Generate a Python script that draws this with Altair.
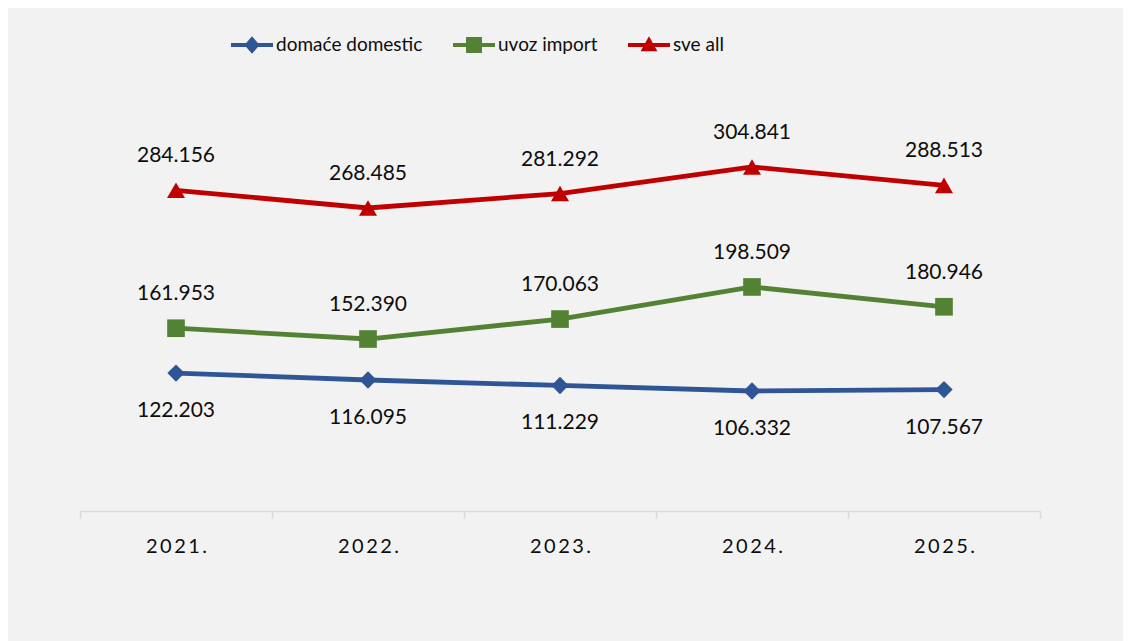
import altair as alt
import pandas as pd

years = ["2021.", "2022.", "2023.", "2024.", "2025."]
domestic = [122.203, 116.095, 111.229, 106.332, 107.567]
imports = [161.953, 152.390, 170.063, 198.509, 180.946]
total = [284.156, 268.485, 281.292, 304.841, 288.513]
series_names = ["domaće domestic", "uvoz import", "sve all"]
colors = ["#2f5597", "#548235", "#c00000"]
marker_shapes = ["diamond", "square", "triangle-up"]
marker_sizes = [300, 324, 360]

# legend symbols: line segment with the marker on it (custom SVG paths)
bar = "M-1,-0.1H1V0.1H-1Z"
legend_shapes = [
    bar + "M0,-0.42L0.36,0L0,0.42L-0.36,0Z",
    bar + "M-0.38,-0.38H0.38V0.38H-0.38Z",
    bar + "M0,-0.42L0.4,0.3L-0.4,0.3Z",
]

rows = []
for name, vals in zip(series_names, [domestic, imports, total]):
    for yr, v in zip(years, vals):
        rows.append({"year": yr, "series": name, "value": v})
df = pd.DataFrame(rows)

FONT = "Lato"
TXT = "#0d0d0d"

x_enc = alt.X(
    "year:N",
    sort=years,
    bandPosition=0.5,
    scale=alt.Scale(type="band", domain=years, paddingInner=0, paddingOuter=0),
    axis=alt.Axis(
        title=None,
        labelAngle=0,
        tickBand="extent",
        domainColor="#d9d9d9",
        domainWidth=1.5,
        tickColor="#d9d9d9",
        tickWidth=1.5,
        tickSize=7,
        labelPadding=18,
        labelFont=FONT,
        labelFontSize=20,
        labelColor=TXT,
        labelExpr="join(split(datum.label, ''), '\u2009')",
        grid=False,
    ),
)
y_enc = alt.Y("value:Q", scale=alt.Scale(domain=[0, 350], nice=False, zero=True), axis=None)
color_enc = alt.Color("series:N", scale=alt.Scale(domain=series_names, range=colors), legend=None)

base = alt.Chart(df)

lines = base.mark_line(strokeWidth=4.8).encode(x=x_enc, y=y_enc, color=color_enc, detail="series:N")

points = base.mark_point(filled=True, opacity=1).encode(
    x=x_enc,
    y=y_enc,
    color=color_enc,
    shape=alt.Shape("series:N", scale=alt.Scale(domain=series_names, range=marker_shapes), legend=None),
    size=alt.Size("series:N", scale=alt.Scale(domain=series_names, range=marker_sizes), legend=None),
)

labels_above = base.transform_filter(
    alt.datum.series != series_names[0]
).mark_text(font=FONT, fontSize=21, color=TXT, dy=-34, baseline="middle").encode(
    x=x_enc, y=y_enc, text=alt.Text("value:Q", format=".3f")
)
labels_below = base.transform_filter(
    alt.datum.series == series_names[0]
).mark_text(font=FONT, fontSize=21, color=TXT, dy=38, baseline="middle").encode(
    x=x_enc, y=y_enc, text=alt.Text("value:Q", format=".3f")
)

legend_layer = base.transform_filter("false").mark_point(filled=True, opacity=1).encode(
    color=color_enc,
    shape=alt.Shape(
        "series:N",
        scale=alt.Scale(domain=series_names, range=legend_shapes),
        legend=alt.Legend(
            title=None,
            orient="none",
            direction="horizontal",
            legendX=151,
            legendY=-92,
            symbolSize=1764,
            symbolStrokeWidth=0,
            symbolOpacity=1,
            symbolFillColor=alt.ExprRef("scale('color', datum.value)"),
            labelFont=FONT,
            labelFontSize=19,
            labelColor=TXT,
            labelOffset=3,
            columnPadding=30,
        ),
    ),
)

chart = (
    alt.layer(lines, points, labels_above, labels_below, legend_layer)
    .resolve_scale(shape="independent", size="independent")
    .properties(
        width=960,
        height=395,
        background="#f2f2f2",
        padding={"left": 72, "top": 108, "right": 83, "bottom": 130},
        autosize=alt.AutoSizeParams(type="none"),
    )
    .configure_view(stroke=None)
)

chart.save("out.html", embed_options={"renderer": "svg", "actions": False})
